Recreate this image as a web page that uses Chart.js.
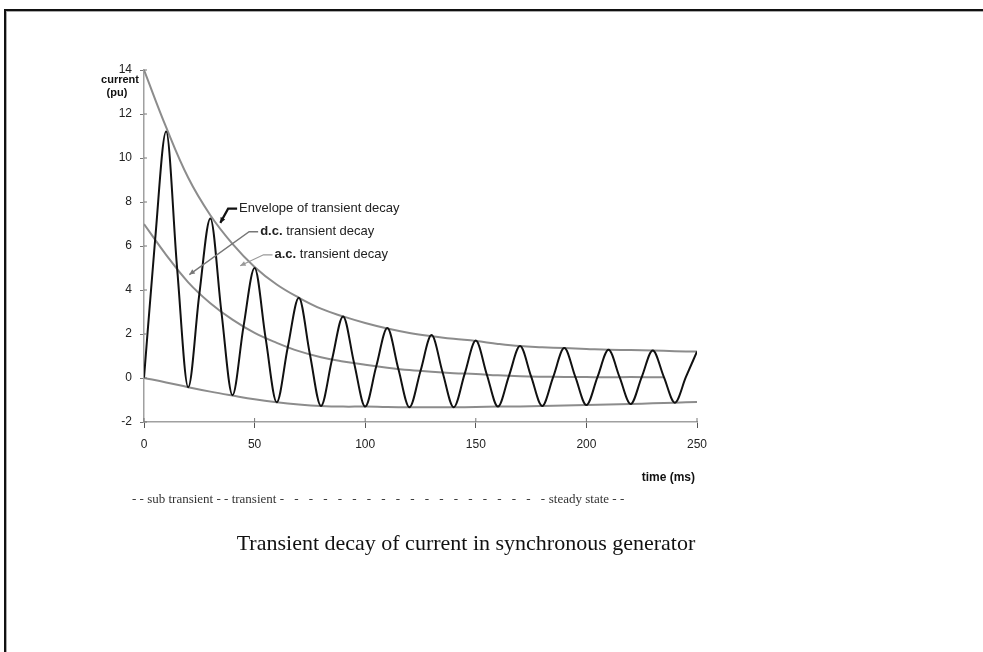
<!DOCTYPE html>
<html>
<head>
<meta charset="utf-8">
<title>Transient decay of current in synchronous generator</title>
<script src="https://cdn.jsdelivr.net/npm/chart.js@4.4.1/dist/chart.umd.min.js"></script>
<style>
    html, body { margin: 0; padding: 0; background: #fff; }
    #wrap { position: relative; width: 983px; height: 652px; overflow: hidden; }
    #frame { position: absolute; left: 4px; top: 9px; width: 1000px; height: 700px;
             border-top: 2px solid #111; border-left: 2px solid #111; }
    #frame::after { content: ''; position: absolute; left: 0; top: 0; right: 0; bottom: 0;
                    border-top: 1px solid #aaa; border-left: 1px solid #aaa; }
    #chart { position: absolute; left: 0; top: 0; }
</style>
</head>
<body>
<div id="wrap">
    <div id="frame"></div>
    <canvas id="chart" width="983" height="652"></canvas>
</div>
<script>
// --- data (time in ms, current in pu) ---
const waveTime = [0, 5, 10, 15, 20, 25, 30, 35, 40, 45, 50, 55, 60, 65, 70, 75, 80, 85, 90, 95,
    100, 105, 110, 115, 120, 125, 130, 135, 140, 145, 150, 155, 160, 165, 170, 175, 180, 185, 190, 195,
    200, 205, 210, 215, 220, 225, 230, 235, 240, 245, 250];
const waveCurrent = [0, 6.25, 11.2, 4.95, -0.42, 3.8, 7.25, 3.0, -0.78, 2.35, 5.0, 1.8, -1.1, 1.4, 3.65, 1.08,
    -1.27, 0.84, 2.8, 0.67, -1.3, 0.53, 2.27, 0.41, -1.33, 0.32, 1.95, 0.25, -1.33, 0.2,
    1.7, 0.15, -1.3, 0.1, 1.45, 0.07, -1.27, 0.05, 1.36, 0.05, -1.23, 0.04, 1.28, 0.04,
    -1.18, 0.04, 1.25, 0.05, -1.12, 0.05, 1.2];

const envTime = [0, 10, 20, 30, 40, 50, 60, 70, 80, 90, 100, 110, 120, 130, 140, 150, 160, 170, 180, 190,
    200, 210, 220, 230, 240, 250];
const envUpper = [14, 11.4, 9.1, 7.4, 6.1, 5.05, 4.25, 3.65, 3.15, 2.8, 2.5, 2.25, 2.05, 1.9, 1.78, 1.68,
    1.55, 1.45, 1.4, 1.36, 1.32, 1.28, 1.27, 1.25, 1.22, 1.2];
const envLower = [0, -0.2, -0.42, -0.62, -0.8, -0.97, -1.1, -1.2, -1.27, -1.3, -1.3, -1.32, -1.33, -1.33,
    -1.33, -1.32, -1.3, -1.29, -1.27, -1.25, -1.23, -1.2, -1.18, -1.15, -1.12, -1.09];

const dcTime = [0, 10, 20, 30, 40, 50, 60, 70, 80, 90, 100, 110, 120, 130, 140, 150, 160, 170, 180, 190,
    200, 210, 220, 235];
const dcCurrent = [7, 5.6, 4.35, 3.4, 2.65, 2.05, 1.6, 1.22, 0.94, 0.75, 0.6, 0.47, 0.36, 0.28, 0.22, 0.18,
    0.12, 0.08, 0.06, 0.05, 0.04, 0.03, 0.04, 0.03];

const xTicks = [0, 50, 100, 150, 200, 250];
const yTicks = [-2, 0, 2, 4, 6, 8, 10, 12, 14];

// text labels, anchored in data units (time, current)
const notes = [
    { bold: '', text: 'Envelope of transient decay', at: [43, 7.7], tip: [34.5, 7.05], color: '#111', width: 2.2 },
    { bold: 'd.c. ', text: 'transient decay', at: [52.5, 6.65], tip: [20.5, 4.7], color: '#777', width: 1.4 },
    { bold: 'a.c. ', text: 'transient decay', at: [59, 5.6], tip: [43.5, 5.1], color: '#999', width: 1.2 }
];
const bottomRow = ['- - sub transient - - transient', 'steady state - -'];

const SANS = '"Liberation Sans", Arial, sans-serif';
const SERIF = '"Liberation Serif", "Times New Roman", serif';

const toPoints = (xs, ys) => xs.map((x, i) => ({ x: x, y: ys[i] }));

function arrowHead(ctx, fx, fy, tx, ty, size) {
    const a = Math.atan2(ty - fy, tx - fx);
    ctx.beginPath();
    ctx.moveTo(tx, ty);
    ctx.lineTo(tx - size * Math.cos(a - 0.45), ty - size * Math.sin(a - 0.45));
    ctx.lineTo(tx - size * Math.cos(a + 0.45), ty - size * Math.sin(a + 0.45));
    ctx.closePath();
    ctx.fill();
}

const textPlugin = {
    id: 'texts',
    afterDraw(chart) {
        const { ctx, chartArea: area, scales } = chart;
        const px = v => scales.x.getPixelForValue(v);
        const py = v => scales.y.getPixelForValue(v);
        ctx.save();

        // small marks crossing the axes on the inner side too
        ctx.strokeStyle = '#777';
        ctx.lineWidth = 1;
        ctx.beginPath();
        yTicks.forEach(v => { ctx.moveTo(area.left, py(v)); ctx.lineTo(area.left + 3, py(v)); });
        xTicks.forEach(v => { ctx.moveTo(px(v), area.bottom); ctx.lineTo(px(v), area.bottom - 4); });
        ctx.stroke();

        // y axis title
        ctx.fillStyle = '#111';
        ctx.font = 'bold 11px ' + SANS;
        ctx.textAlign = 'center';
        ctx.textBaseline = 'middle';
        ctx.fillText('current', area.left - 24, area.top + 10);
        ctx.fillText('(pu)', area.left - 27, area.top + 23);

        // annotations with leaders
        notes.forEach(n => {
            const x = px(n.at[0]), y = py(n.at[1]);
            const tx = px(n.tip[0]), ty = py(n.tip[1]);
            ctx.strokeStyle = n.color;
            ctx.fillStyle = n.color;
            ctx.lineWidth = n.width;
            ctx.beginPath();
            ctx.moveTo(x - 2, y);
            ctx.lineTo(x - 11, y);
            ctx.lineTo(tx, ty);
            ctx.stroke();
            arrowHead(ctx, x - 11, y, tx, ty, 6);

            ctx.textAlign = 'left';
            ctx.fillStyle = '#222';
            let cx = x;
            if (n.bold) {
                ctx.font = 'bold 13px ' + SANS;
                ctx.fillText(n.bold, cx, y);
                cx += ctx.measureText(n.bold).width;
            }
            ctx.font = '13px ' + SANS;
            ctx.fillText(n.text, cx, y);
        });

        // x axis title
        ctx.fillStyle = '#111';
        ctx.font = 'bold 12px ' + SANS;
        ctx.textAlign = 'right';
        ctx.fillText('time (ms)', area.right - 2, area.bottom + 56);

        // phase row
        ctx.font = '13px ' + SERIF;
        ctx.fillStyle = '#333';
        ctx.textAlign = 'left';
        const rowY = area.bottom + 78;
        ctx.fillText(bottomRow[0], area.left - 12, rowY);
        const dashStart = area.left - 12 + ctx.measureText(bottomRow[0] + ' ').width;
        const steadyX = px(183);
        for (let dx = dashStart; dx < steadyX - 8; dx += 14.5) {
            ctx.fillText('-', dx, rowY);
        }
        ctx.fillText(bottomRow[1], steadyX, rowY);

        // caption
        ctx.font = '22px ' + SERIF;
        ctx.fillStyle = '#111';
        ctx.textAlign = 'center';
        ctx.fillText('Transient decay of current in synchronous generator', 466, area.bottom + 122);
        ctx.restore();
    }
};

const ctx = document.getElementById('chart').getContext('2d');
new Chart(ctx, {
    type: 'line',
    data: {
        datasets: [
            {
                label: 'current',
                data: toPoints(waveTime, waveCurrent),
                borderColor: '#111',
                borderWidth: 2,
                cubicInterpolationMode: 'monotone'
            },
            {
                label: 'envelope upper',
                data: toPoints(envTime, envUpper),
                borderColor: '#8c8c8c',
                borderWidth: 2,
                tension: 0.4
            },
            {
                label: 'envelope lower',
                data: toPoints(envTime, envLower),
                borderColor: '#8c8c8c',
                borderWidth: 2,
                tension: 0.4
            },
            {
                label: 'd.c. transient',
                data: toPoints(dcTime, dcCurrent),
                borderColor: '#8c8c8c',
                borderWidth: 2,
                tension: 0.4
            }
        ]
    },
    options: {
        responsive: false,
        animation: false,
        devicePixelRatio: 1,
        elements: { point: { radius: 0 } },
        layout: { padding: { left: 94, right: 286, top: 70, bottom: 190 } },
        plugins: {
            legend: { display: false },
            tooltip: { enabled: false }
        },
        scales: {
            x: {
                type: 'linear',
                min: 0,
                max: 250,
                afterBuildTicks: s => { s.ticks = xTicks.map(v => ({ value: v })); },
                afterFit: s => { s.height = 40; },
                border: { display: true, color: '#a0a0a0', width: 1.5 },
                grid: { drawOnChartArea: false, drawTicks: true, tickLength: 6, color: '#555' },
                ticks: { color: '#222', font: { family: SANS, size: 12 }, padding: 9, maxRotation: 0 }
            },
            y: {
                type: 'linear',
                min: -2,
                max: 14,
                afterBuildTicks: s => { s.ticks = yTicks.map(v => ({ value: v })); },
                afterFit: s => { s.width = 50; },
                border: { display: true, color: '#a0a0a0', width: 1.5 },
                grid: { drawOnChartArea: false, drawTicks: true, tickLength: 4, color: '#777' },
                ticks: { color: '#222', font: { family: SANS, size: 12 }, padding: 8 }
            }
        }
    },
    plugins: [textPlugin]
});
</script>
</body>
</html>
